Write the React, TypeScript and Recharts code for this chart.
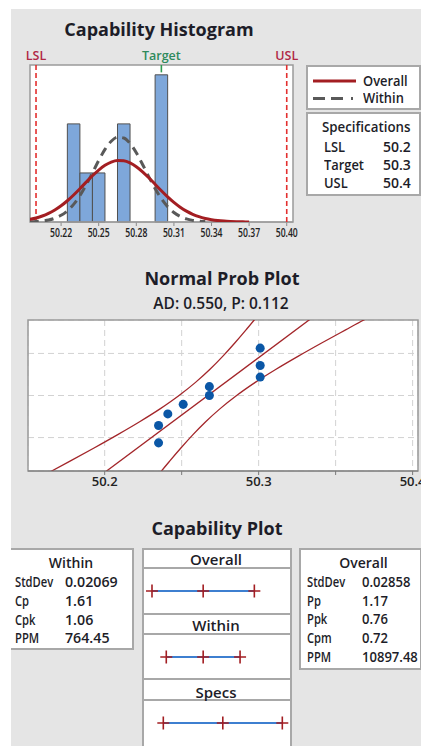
import React from 'react';
import {
  ComposedChart,
  LineChart,
  Line,
  XAxis,
  YAxis,
  ReferenceArea,
  ReferenceLine,
  CartesianGrid,
  Scatter,
} from 'recharts';

// ---------- Capability histogram ----------
const binStarts = [50.225, 50.235, 50.245, 50.255, 50.265, 50.275, 50.285, 50.295];
const binCounts = [2, 1, 1, 0, 2, 0, 0, 3];
const binWidth = 0.01;

const curveX = [
  50.195, 50.2, 50.205, 50.21, 50.215, 50.22, 50.225, 50.23, 50.235, 50.24, 50.245, 50.25,
  50.255, 50.26, 50.265, 50.27, 50.275, 50.28, 50.285, 50.29, 50.295, 50.3, 50.305, 50.31,
  50.315, 50.32, 50.325, 50.33, 50.335, 50.34, 50.345, 50.35, 50.355, 50.36, 50.365, 50.37,
];
const overallCurve = [
  0.054, 0.083, 0.122, 0.176, 0.245, 0.331, 0.433, 0.551, 0.679, 0.812, 0.942, 1.059,
  1.155, 1.222, 1.254, 1.248, 1.204, 1.127, 1.023, 0.901, 0.769, 0.637, 0.512, 0.399,
  0.301, 0.221, 0.157, 0.108, 0.072, 0.047, 0.029, 0.018, 0.011, 0.006, 0.003, 0.002,
];
const withinCurve = [
  0.004, 0.01, 0.02, 0.041, 0.077, 0.136, 0.228, 0.36, 0.537, 0.755, 1.001, 1.253,
  1.479, 1.646, 1.729, 1.713, 1.601, 1.411, 1.173, 0.92, 0.681, 0.475, 0.313, 0.194,
  0.114, 0.063, 0.033, 0.016, 0.008,
];
const histTicks = [50.22, 50.25, 50.28, 50.31, 50.34, 50.37, 50.4];
const LSL = 50.2;
const TARGET = 50.3;
const USL = 50.4;

const specLabels = ['LSL', 'Target', 'USL'];
const specValues = ['50.2', '50.3', '50.4'];

// ---------- Normal probability plot ----------
const probX = [50.235, 50.235, 50.241, 50.251, 50.268, 50.268, 50.301, 50.301, 50.301];
const probZ = [-1.443, -0.912, -0.561, -0.27, 0, 0.27, 0.561, 0.912, 1.443];
const bandZ = [-2.4, -2.3, -2.0, -1.6, -1.2, -0.8, -0.4, 0, 0.4, 0.8, 1.2, 1.6, 2.0, 2.3, 2.4];
const bandLeft = [
  50.1616, 50.1656, 50.1775, 50.1931, 50.2082, 50.2227, 50.2362, 50.2483, 50.259, 50.2684,
  50.2768, 50.2845, 50.2918, 50.2971, 50.2988,
];
const bandRight = [
  50.2352, 50.2369, 50.2422, 50.2495, 50.2572, 50.2656, 50.275, 50.2857, 50.2978, 50.3113,
  50.3258, 50.3409, 50.3565, 50.3683, 50.3724,
];
const fitX = [50.1984, 50.3356];
const fitZ = [-2.4, 2.4];
const probTicks = [50.2, 50.25, 50.3, 50.35, 50.4];
const probGridZ = [-1.2816, 0, 1.2816];

// ---------- Capability plot ----------
const capOverall = [50.181, 50.267, 50.353];
const capWithin = [50.205, 50.267, 50.329];
const capSpecs = [50.2, 50.3, 50.4];

const withinLabels = ['StdDev', 'Cp', 'Cpk', 'PPM'];
const withinValues = ['0.02069', '1.61', '1.06', '764.45'];
const overallLabels = ['StdDev', 'Pp', 'Ppk', 'Cpm', 'PPM'];
const overallValues = ['0.02858', '1.17', '0.76', '0.72', '10897.48'];

// ---------- derived tables ----------
const curveData = curveX.map((x, i) => ({ x, overall: overallCurve[i], within: withinCurve[i] }));
const bins = binStarts
  .map((s, i) => ({ x1: s, x2: s + binWidth, count: binCounts[i] }))
  .filter((b) => b.count > 0);
const probPoints = probX.map((x, i) => ({ x, z: probZ[i] }));
const leftBand = bandZ.map((z, i) => ({ x: bandLeft[i], z }));
const rightBand = bandZ.map((z, i) => ({ x: bandRight[i], z }));
const fitLine = fitX.map((x, i) => ({ x, z: fitZ[i] }));

// ---------- styles ----------
const FONT = "'Open Sans', 'Noto Sans', sans-serif";
const TXT = '#1d1d28';
const BORDER = '#a8a8a8';
const PANEL = '#e5e5e5';
const DARKRED = '#a31e22';

const HIST_DOMAIN: [number, number] = [50.1952, 50.405];
const HIST_Y: [number, number] = [0, 3.2];
const PROB_DOMAIN: [number, number] = [50.1502, 50.4035];
const PROB_Y: [number, number] = [-2.3, 2.3];
const CAP_DOMAIN: [number, number] = [50.1642, 50.4146];

function Txt(props: any) {
  const { x, y, size = 14, weight = 600, anchor = 'start', color = TXT, sx = 1, children } = props;
  const lh = Math.round(size * 1.4);
  const tf =
    anchor === 'middle'
      ? `translateX(-50%) scaleX(${sx})`
      : sx !== 1
      ? `scaleX(${sx})`
      : undefined;
  return (
    <div
      style={{
        position: 'absolute',
        left: x,
        top: y - lh / 2,
        fontSize: size,
        lineHeight: lh + 'px',
        fontWeight: weight,
        color,
        whiteSpace: 'nowrap',
        transform: tf,
        transformOrigin: anchor === 'middle' ? 'center center' : 'left center',
      }}
    >
      {children}
    </div>
  );
}

function Box(props: any) {
  const { left, top, width, height, noLeft, children } = props;
  return (
    <div
      style={{
        position: 'absolute',
        left,
        top,
        width,
        height,
        boxSizing: 'border-box',
        background: '#fff',
        border: `2px solid ${BORDER}`,
        borderLeft: noLeft ? 'none' : `2px solid ${BORDER}`,
      }}
    >
      {children}
    </div>
  );
}

const renderHistTick = (props: any) => {
  const { x, y, payload } = props;
  return (
    <text
      x={x}
      y={y}
      dy="0.71em"
      textAnchor="middle"
      fontSize={13}
      fontWeight={600}
      fill="#222"
      textLength={22}
      lengthAdjust="spacingAndGlyphs"
    >
      {Number(payload.value).toFixed(2)}
    </text>
  );
};

const renderCross = (p: any) => {
  const { cx, cy, index } = p;
  if (cx == null || cy == null) return <g key={index} />;
  return (
    <path
      key={index}
      d={`M${cx - 6},${cy}H${cx + 6}M${cx},${cy - 6.5}V${cy + 6.5}`}
      stroke={DARKRED}
      strokeWidth={1.6}
      fill="none"
    />
  );
};

function CapRow(props: any) {
  const { values, top } = props;
  const data = values.map((v: number) => ({ x: v, y: 0 }));
  return (
    <div style={{ position: 'absolute', left: 142, top }}>
      <LineChart width={149} height={46} margin={{ top: 0, right: 0, bottom: 0, left: 0 }} data={data}>
        <XAxis hide type="number" dataKey="x" domain={CAP_DOMAIN} allowDataOverflow />
        <YAxis hide type="number" domain={[-1, 1]} />
        <Line
          dataKey="y"
          stroke="#3d7fd0"
          strokeWidth={2}
          dot={renderCross}
          activeDot={false}
          isAnimationActive={false}
        />
      </LineChart>
    </div>
  );
}

export default function App() {
  return (
    <div
      style={{
        position: 'absolute',
        left: 0,
        top: 0,
        width: 421,
        height: 746,
        overflow: 'hidden',
        background: '#fff',
        fontFamily: FONT,
        color: TXT,
      }}
    >
      <div style={{ position: 'absolute', left: 11, top: 9, width: 420, height: 740, background: PANEL }} />

      {/* ===== Capability Histogram ===== */}
      <Txt x={159} y={29.5} size={18} weight={700} anchor="middle">
        Capability Histogram
      </Txt>

      <div style={{ position: 'absolute', left: 0, top: 0 }}>
        <ComposedChart width={310} height={245} margin={{ top: 65, right: 17, bottom: 5, left: 30 }} data={curveData}>
          <CartesianGrid horizontal={false} vertical={false} fill="#fff" />
          <XAxis
            type="number"
            dataKey="x"
            domain={HIST_DOMAIN}
            allowDataOverflow
            ticks={histTicks}
            interval={0}
            height={18}
            tickSize={4}
            stroke="#8a8a8a"
            tick={renderHistTick}
          />
          <YAxis hide type="number" domain={HIST_Y} allowDataOverflow />
          {bins.map((b, i) => (
            <ReferenceArea
              key={i}
              x1={b.x1}
              x2={b.x2}
              y1={0}
              y2={b.count}
              fill="#7ea7da"
              fillOpacity={1}
              stroke="#505050"
              strokeWidth={1}
              ifOverflow="visible"
            />
          ))}
        </ComposedChart>
      </div>
      <div style={{ position: 'absolute', left: 0, top: 0 }}>
        <ComposedChart width={310} height={245} margin={{ top: 65, right: 17, bottom: 23, left: 30 }} data={curveData}>
          <XAxis hide type="number" dataKey="x" domain={HIST_DOMAIN} allowDataOverflow />
          <YAxis hide type="number" domain={HIST_Y} allowDataOverflow />
          <ReferenceLine
            x={LSL}
            stroke="#e3302f"
            strokeWidth={1.6}
            strokeDasharray="5 3"
            label={{ value: 'LSL', position: 'top', fill: '#b02846', fontSize: 12.5, fontWeight: 600, offset: 5 }}
          />
          <ReferenceLine
            x={USL}
            stroke="#e3302f"
            strokeWidth={1.6}
            strokeDasharray="5 3"
            label={{ value: 'USL', position: 'top', fill: '#b02846', fontSize: 12.5, fontWeight: 600, offset: 5 }}
          />
          <ReferenceLine
            segment={[
              { x: TARGET, y: HIST_Y[1] },
              { x: TARGET, y: 3.05 },
            ]}
            stroke="#2f9a52"
            strokeWidth={1.6}
            label={{ value: 'Target', position: 'top', fill: '#2e8a5c', fontSize: 12.5, fontWeight: 600, offset: 5 }}
          />
          <Line
            dataKey="within"
            type="monotone"
            stroke="#595959"
            strokeWidth={3}
            strokeDasharray="9 6"
            dot={false}
            activeDot={false}
            isAnimationActive={false}
          />
          <Line
            dataKey="overall"
            type="monotone"
            stroke={DARKRED}
            strokeWidth={3}
            dot={false}
            activeDot={false}
            isAnimationActive={false}
          />
          <ReferenceArea
            x1={HIST_DOMAIN[0]}
            x2={HIST_DOMAIN[1]}
            y1={HIST_Y[0]}
            y2={HIST_Y[1]}
            fill="none"
            stroke="#9b9b9b"
            strokeWidth={1.5}
          />
        </ComposedChart>
      </div>

      {/* Legend box */}
      <Box left={306} top={65} width={115} height={45}>
        <svg width={60} height={40} style={{ position: 'absolute', left: 0, top: 0 }}>
          <line x1={5} y1={14} x2={48} y2={14} stroke={DARKRED} strokeWidth={3} />
          <line x1={5} y1={31.5} x2={50} y2={31.5} stroke="#595959" strokeWidth={3} strokeDasharray="12 6 12 8 2 100" />
        </svg>
      </Box>
      <Txt x={363} y={80.5} size={14} sx={0.92}>Overall</Txt>
      <Txt x={363} y={98} size={14} sx={0.92}>Within</Txt>

      {/* Specifications box */}
      <Box left={306} top={112} width={115} height={84} />
      <Txt x={322} y={127} size={14} sx={0.95}>Specifications</Txt>
      {specLabels.map((l, i) => (
        <Txt key={l} x={324} y={146.5 + i * 18.4} size={14} sx={0.92}>
          {l}
        </Txt>
      ))}
      {specValues.map((v, i) => (
        <Txt key={v} x={383} y={146.5 + i * 18.4} size={14}>
          {v}
        </Txt>
      ))}

      {/* ===== Normal Prob Plot ===== */}
      <Txt x={222} y={278} size={18} weight={700} anchor="middle">
        Normal Prob Plot
      </Txt>
      <Txt x={221} y={302.5} size={15.5} weight={600} anchor="middle">
        AD: 0.550, P: 0.112
      </Txt>
      <div style={{ position: 'absolute', left: 0, top: 300 }}>
        <ComposedChart width={421} height={190} margin={{ top: 20, right: 3, bottom: 0, left: 28 }}>
          <CartesianGrid fill="#fff" stroke="#d2d2d2" strokeDasharray="6 4" />
          <XAxis
            type="number"
            dataKey="x"
            domain={PROB_DOMAIN}
            allowDataOverflow
            ticks={probTicks}
            interval={0}
            height={19}
            tickSize={4}
            stroke="#7a7a7a"
            tick={{ fill: '#222', fontSize: 13, fontWeight: 600 }}
            tickFormatter={(v: number) => (Math.abs(v * 10 - Math.round(v * 10)) < 1e-6 ? v.toFixed(1) : '')}
          />
          <YAxis hide type="number" dataKey="z" domain={PROB_Y} allowDataOverflow ticks={probGridZ} />
          <Line data={leftBand} dataKey="z" type="monotone" stroke="#a3262a" strokeWidth={1.3} dot={false} activeDot={false} isAnimationActive={false} />
          <Line data={rightBand} dataKey="z" type="monotone" stroke="#a3262a" strokeWidth={1.3} dot={false} activeDot={false} isAnimationActive={false} />
          <Line data={fitLine} dataKey="z" type="linear" stroke="#a3262a" strokeWidth={1.3} dot={false} activeDot={false} isAnimationActive={false} />
          <Scatter data={probPoints} dataKey="z" fill="#0b57a6" isAnimationActive={false} />
          <ReferenceArea
            x1={PROB_DOMAIN[0]}
            x2={PROB_DOMAIN[1]}
            y1={PROB_Y[0]}
            y2={PROB_Y[1]}
            fill="none"
            stroke="#9b9b9b"
            strokeWidth={1.5}
          />
        </ComposedChart>
      </div>

      {/* ===== Capability Plot ===== */}
      <Txt x={217} y={528} size={18} weight={700} anchor="middle">
        Capability Plot
      </Txt>

      {/* Within stats */}
      <Box left={11} top={548} width={123} height={102} noLeft />
      <Txt x={71} y={563} size={14} anchor="middle">Within</Txt>
      {withinLabels.map((l, i) => (
        <Txt key={l} x={15} y={581.7 + i * 18.9} size={14} sx={0.8}>
          {l}
        </Txt>
      ))}
      {withinValues.map((v, i) => (
        <Txt key={v} x={64.5} y={581.7 + i * 18.9} size={14.5} sx={0.98}>
          {v}
        </Txt>
      ))}

      {/* Centre column */}
      <Box left={142} top={548} width={150} height={21} />
      <Box left={142} top={567} width={150} height={48} />
      <Box left={142} top={613} width={150} height={22} />
      <Box left={142} top={633} width={150} height={47} />
      <Box left={142} top={678} width={150} height={23} />
      <Box left={142} top={699} width={150} height={52} />
      <Txt x={216} y={559} size={15} anchor="middle">Overall</Txt>
      <Txt x={216} y={625} size={15} anchor="middle">Within</Txt>
      <Txt x={216} y={692} size={15} anchor="middle">Specs</Txt>
      <CapRow values={capOverall} top={568} />
      <CapRow values={capWithin} top={634} />
      <CapRow values={capSpecs} top={700} />

      {/* Overall stats */}
      <Box left={299} top={548} width={123} height={122} />
      <Txt x={363.5} y={563} size={14} anchor="middle">Overall</Txt>
      {overallLabels.map((l, i) => (
        <Txt key={l} x={307} y={581.7 + i * 18.8} size={14} sx={0.8}>
          {l}
        </Txt>
      ))}
      {overallValues.map((v, i) => (
        <Txt key={v} x={362} y={581.7 + i * 18.8} size={14.5} sx={0.9}>
          {v}
        </Txt>
      ))}
    </div>
  );
}
